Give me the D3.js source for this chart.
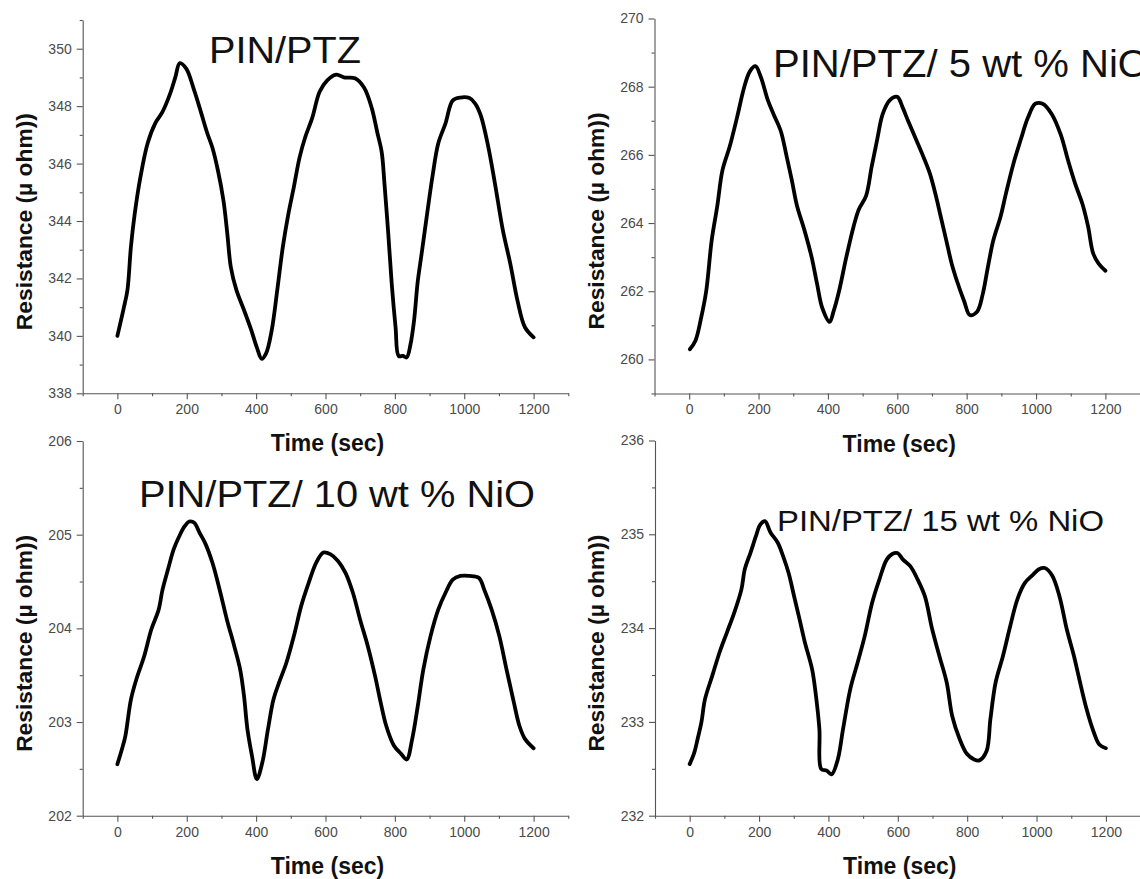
<!DOCTYPE html>
<html><head><meta charset="utf-8">
<script src="https://cdn.jsdelivr.net/npm/d3@7"></script>
<style>body{margin:0;background:#fff}svg{display:block}</style>
</head><body>
<svg id="chart" width="1140" height="879"></svg>
<script>
// ---------- DATA ----------
const panelTitles = ["PIN/PTZ", "PIN/PTZ/ 5 wt % NiO", "PIN/PTZ/ 10 wt % NiO", "PIN/PTZ/ 15 wt % NiO"];
const xLabel = "Time (sec)";
const yLabel = "Resistance (\u00B5 ohm))";
const xDomain = [-100, 1300];
const xMajorTicks = [0, 200, 400, 600, 800, 1000, 1200];
const xMinorTicks = [-100, 100, 300, 500, 700, 900, 1100, 1300];

const yDomain1 = [338, 351];
const yMajorTicks1 = [338, 340, 342, 344, 346, 348, 350];
const yMinorTicks1 = [339, 341, 343, 345, 347, 349, 351];
const yDomain2 = [259, 270];
const yMajorTicks2 = [260, 262, 264, 266, 268, 270];
const yMinorTicks2 = [259, 261, 263, 265, 267, 269];
const yDomain3 = [202, 206];
const yMajorTicks3 = [202, 203, 204, 205, 206];
const yMinorTicks3 = [202.5, 203.5, 204.5, 205.5];
const yDomain4 = [232, 236];
const yMajorTicks4 = [232, 233, 234, 235, 236];
const yMinorTicks4 = [232.5, 233.5, 234.5, 235.5];

const time1 = [0,18,29,39,50,66,87,109,130,151,167,180,199,220,237,258,274,290,306,317,327,343,365,386,402,416,429,445,461,477,493,509,525,541,562,583,605,631,653,685,711,733,749,762,770,781,791,802,811,823,834,845,855,866,877,893,909,925,946,967,989,1015,1031,1047,1069,1090,1111,1133,1154,1175,1200];
const res1 = [340.0,340.95,341.6,343.1,344.25,345.5,346.7,347.4,347.8,348.4,349.0,349.5,349.3,348.6,347.95,347.1,346.55,345.75,344.7,343.55,342.4,341.6,340.9,340.2,339.6,339.2,339.4,340.2,341.6,343.1,344.25,345.2,346.2,346.9,347.6,348.5,348.9,349.1,349.0,348.97,348.65,347.95,347.1,346.4,345.3,343.55,341.8,340.3,339.3,339.3,339.25,339.7,340.5,341.9,342.85,344.25,345.6,346.7,347.4,348.2,348.3,348.28,348.1,347.7,346.6,345.2,343.7,342.5,341.2,340.3,339.95];

const time2 = [2,18,34,49,65,81,96,117,138,159,175,191,206,227,243,264,280,296,311,332,353,369,384,405,416,432,453,474,489,510,526,542,558,578,600,615,631,652,673,694,710,725,741,757,772,793,809,830,846,861,877,898,914,935,956,977,998,1019,1045,1071,1092,1113,1134,1150,1165,1181,1200];
const res2 = [260.3,260.55,261.2,262.0,263.5,264.5,265.55,266.25,267.1,268.0,268.45,268.6,268.3,267.6,267.2,266.7,266.0,265.25,264.5,263.8,263.0,262.2,261.5,261.1,261.4,262.0,263.0,263.9,264.4,264.8,265.65,266.45,267.2,267.6,267.7,267.4,267.0,266.5,266.0,265.45,264.85,264.2,263.5,262.8,262.3,261.7,261.3,261.4,261.9,262.7,263.5,264.2,264.9,265.75,266.45,267.1,267.5,267.5,267.2,266.6,265.85,265.15,264.55,263.9,263.1,262.8,262.6];

const time3 = [0,13,23,39,55,77,98,119,130,146,162,178,194,207,221,237,253,274,295,316,337,354,365,375,388,402,418,434,450,466,487,509,530,551,573,594,615,636,658,679,700,722,743,759,775,797,818,834,850,866,882,903,925,946,967,989,1015,1042,1058,1079,1101,1122,1143,1159,1175,1200];
const res3 = [202.55,202.71,202.85,203.24,203.46,203.7,203.99,204.2,204.41,204.63,204.84,204.98,205.09,205.14,205.13,205.02,204.91,204.7,204.41,204.09,203.81,203.56,203.28,202.92,202.64,202.39,202.57,202.92,203.24,203.42,203.63,203.92,204.24,204.48,204.7,204.81,204.79,204.72,204.59,204.38,204.09,203.81,203.49,203.21,202.96,202.75,202.66,202.6,202.82,203.17,203.56,203.92,204.2,204.38,204.52,204.56,204.56,204.54,204.41,204.2,203.92,203.56,203.21,202.96,202.82,202.72];

const time4 = [0,13,23,34,44,65,86,107,128,149,159,175,191,203,217,233,254,269,285,301,317,332,353,364,374,379,395,409,427,442,463,484,505,526,547,568,584,599,615,636,657,678,699,720,741,757,778,799,820,835,856,867,882,903,924,945,966,987,1008,1024,1045,1066,1087,1108,1123,1144,1165,1181,1200];
const res4 = [232.55,232.67,232.82,233.0,233.24,233.49,233.74,233.95,234.16,234.41,234.63,234.8,234.98,235.1,235.14,235.02,234.91,234.77,234.59,234.34,234.09,233.85,233.56,233.28,232.92,232.5,232.48,232.44,232.6,232.92,233.35,233.63,233.92,234.27,234.52,234.73,234.79,234.8,234.73,234.66,234.52,234.34,233.99,233.7,233.42,233.06,232.82,232.66,232.6,232.59,232.69,233.03,233.42,233.7,234.02,234.31,234.48,234.56,234.63,234.64,234.56,234.34,233.99,233.7,233.46,233.14,232.89,232.76,232.72];

// ---------- LAYOUT ----------
const panels = [
  {time: time1, res: res1, yDomain: yDomain1, yMaj: yMajorTicks1, yMin: yMinorTicks1, title: panelTitles[0],
   left: 82.7, right: 568.3, top: 20, bottom: 393.3, tx: 209, ty: 63, tsize: 37, tlen: 152},
  {time: time2, res: res2, yDomain: yDomain2, yMaj: yMajorTicks2, yMin: yMinorTicks2, title: panelTitles[1],
   left: 654.5, right: 1140.1, top: 18.5, bottom: 393.5, tx: 773, ty: 77, tsize: 38, tlen: 376},
  {time: time3, res: res3, yDomain: yDomain3, yMaj: yMajorTicks3, yMin: yMinorTicks3, title: panelTitles[2],
   left: 82.7, right: 568.3, top: 441, bottom: 815.7, tx: 139, ty: 507, tsize: 37, tlen: 396},
  {time: time4, res: res4, yDomain: yDomain4, yMaj: yMajorTicks4, yMin: yMinorTicks4, title: panelTitles[3],
   left: 655, right: 1140.6, top: 440.5, bottom: 815.7, tx: 777, ty: 531, tsize: 30, tlen: 327}
];

const svg = d3.select("#chart");
const FONT = "'Liberation Sans', Arial, Helvetica, sans-serif";
const axisColor = "#555";

panels.forEach(p => {
  const x = d3.scaleLinear().domain(xDomain).range([p.left, p.right]);
  const y = d3.scaleLinear().domain(p.yDomain).range([p.bottom, p.top]);
  const g = svg.append("g");

  g.append("g").attr("transform", `translate(0,${p.bottom})`)
    .call(d3.axisBottom(x).tickValues(xMajorTicks).tickSize(6).tickSizeOuter(0).tickPadding(5).tickFormat(d3.format("d")));
  g.append("g").attr("transform", `translate(0,${p.bottom})`)
    .call(d3.axisBottom(x).tickValues(xMinorTicks).tickSize(3).tickSizeOuter(0).tickFormat(""))
    .select(".domain").remove();

  g.append("g").attr("transform", `translate(${p.left},0)`)
    .call(d3.axisLeft(y).tickValues(p.yMaj).tickSize(6).tickSizeOuter(0).tickPadding(5).tickFormat(d3.format("d")));
  g.append("g").attr("transform", `translate(${p.left},0)`)
    .call(d3.axisLeft(y).tickValues(p.yMin).tickSize(3).tickSizeOuter(0).tickFormat(""))
    .select(".domain").remove();

  g.selectAll(".domain, .tick line").attr("stroke", axisColor).attr("stroke-width", 1.1);
  g.selectAll(".tick text").attr("fill", "#4a4a4a").style("font-family", FONT).style("font-size", "14px");

  const xc = (p.left + p.right) / 2 + 2;
  g.append("text").attr("x", xc).attr("y", p.bottom + 58)
    .attr("text-anchor", "middle").style("font-family", FONT).style("font-weight", "bold")
    .style("font-size", "23px").attr("fill", "#111").text(xLabel);

  const yc = (p.top + p.bottom) / 2 + 15;
  g.append("text").attr("transform", `translate(${p.left - 51},${yc}) rotate(-90)`)
    .attr("text-anchor", "middle").style("font-family", FONT).style("font-weight", "bold")
    .style("font-size", "22px").attr("fill", "#111")
    .attr("textLength", 217).attr("lengthAdjust", "spacingAndGlyphs").text(yLabel);

  const pts = p.time.map((t, i) => [t, p.res[i]]);
  g.append("path").datum(pts)
    .attr("fill", "none").attr("stroke", "#000").attr("stroke-width", 3.8)
    .attr("stroke-linejoin", "round").attr("stroke-linecap", "round")
    .attr("d", d3.line().x(d => x(d[0])).y(d => y(d[1])).curve(d3.curveCatmullRom.alpha(0.5)));

  g.append("text").attr("x", p.tx).attr("y", p.ty)
    .style("font-family", FONT).style("font-size", p.tsize + "px").attr("fill", "#111")
    .attr("textLength", p.tlen).attr("lengthAdjust", "spacingAndGlyphs").text(p.title);
});
</script>
</body></html>
